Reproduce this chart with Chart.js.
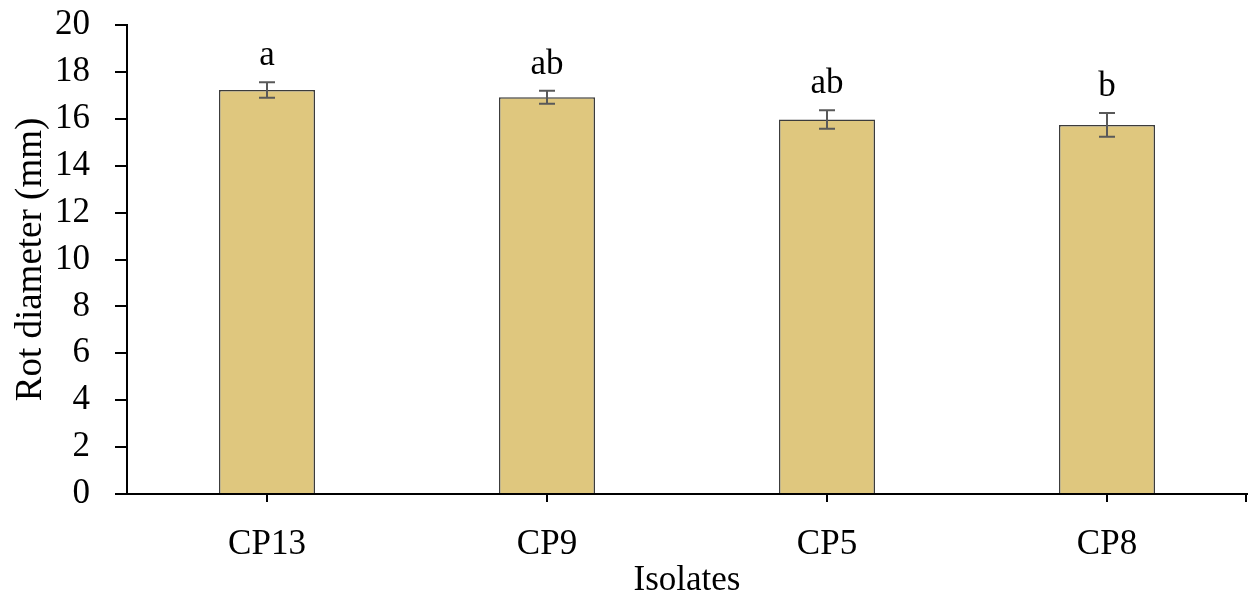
<!DOCTYPE html>
<html>
<head>
<meta charset="utf-8">
<script src="https://cdn.jsdelivr.net/npm/chart.js@4/dist/chart.umd.min.js"></script>
<style>
  html, body { margin: 0; padding: 0; background: #fff; }
  #wrap { width: 1249px; height: 598px; }
</style>
</head>
<body>
<div id="wrap"><canvas id="myChart" width="1249" height="598"></canvas></div>
<script>
// Values
const isolates = ['CP13', 'CP9', 'CP5', 'CP8'];
const rotDiameter = [17.23, 16.92, 15.97, 15.74];
const stdError = [0.33, 0.28, 0.39, 0.51];
const groupLetters = ['a', 'ab', 'ab', 'b'];
const yTicks = [0, 2, 4, 6, 8, 10, 12, 14, 16, 18, 20];

const serif = "'Liberation Serif', 'Times New Roman', serif";

// error bars + significance letters
const errorBarPlugin = {
    id: 'errorBars',
    afterDatasetsDraw(chart) {
        const ctx = chart.ctx;
        const y = chart.scales.y;
        const meta = chart.getDatasetMeta(0);
        ctx.save();
        ctx.strokeStyle = '#595959';
        ctx.lineWidth = 2;
        meta.data.forEach((bar, i) => {
            const top = y.getPixelForValue(rotDiameter[i] + stdError[i]);
            const bot = y.getPixelForValue(rotDiameter[i] - stdError[i]);
            ctx.beginPath();
            ctx.moveTo(bar.x, top); ctx.lineTo(bar.x, bot);
            ctx.moveTo(bar.x - 8, top); ctx.lineTo(bar.x + 8, top);
            ctx.moveTo(bar.x - 8, bot); ctx.lineTo(bar.x + 8, bot);
            ctx.stroke();
            ctx.fillStyle = '#000';
            ctx.font = '35px ' + serif;
            ctx.textAlign = 'center';
            ctx.textBaseline = 'alphabetic';
            ctx.fillText(groupLetters[i], bar.x, top - 17);
        });
        // closing tick at the right end of the x axis
        const area = chart.chartArea;
        ctx.strokeStyle = '#000';
        ctx.beginPath();
        ctx.moveTo(area.right - 1, area.bottom);
        ctx.lineTo(area.right - 1, area.bottom + 8);
        ctx.stroke();
        ctx.restore();
    }
};

const ctx = document.getElementById('myChart').getContext('2d');
new Chart(ctx, {
    type: 'bar',
    data: {
        labels: isolates,
        datasets: [{
            data: rotDiameter,
            backgroundColor: '#DFC77E',
            borderColor: '#3c3c3c',
            borderWidth: 1.5,
            categoryPercentage: 1,
            barPercentage: 0.343
        }]
    },
    options: {
        responsive: false,
        animation: false,
        layout: { padding: { top: 25, right: 2, left: 0, bottom: 0 } },
        plugins: {
            legend: { display: false },
            tooltip: { enabled: false }
        },
        scales: {
            x: {
                offset: true,
                afterFit(scale) {
                    scale.height = 104;
                    scale.paddingLeft = 0;
                    scale.paddingRight = 0;
                },
                grid: {
                    offset: false,
                    drawOnChartArea: false,
                    drawTicks: true,
                    tickLength: 8,
                    color: '#000',
                    lineWidth: 2
                },
                border: { display: true, color: '#000', width: 2 },
                ticks: {
                    color: '#000',
                    padding: 22,
                    font: { family: serif, size: 35 },
                    maxRotation: 0
                },
                title: {
                    display: true,
                    text: 'Isolates',
                    color: '#000',
                    padding: { top: 0, bottom: 0 },
                    font: { family: serif, size: 35, lineHeight: 1 }
                }
            },
            y: {
                min: 0,
                max: 20,
                afterFit(scale) {
                    scale.width = 127;
                    scale.paddingTop = 0;
                    scale.paddingBottom = 0;
                },
                afterBuildTicks(scale) { scale.ticks = yTicks.map(v => ({ value: v })); },
                grid: {
                    drawOnChartArea: false,
                    drawTicks: true,
                    tickLength: 12,
                    color: '#000',
                    lineWidth: 2
                },
                border: { display: true, color: '#000', width: 2 },
                ticks: {
                    color: '#000',
                    padding: 25,
                    autoSkip: false,
                    font: { family: serif, size: 35 }
                },
                title: {
                    display: true,
                    text: 'Rot diameter (mm)',
                    color: '#000',
                    padding: { top: 9, bottom: 0 },
                    font: { family: serif, size: 37 }
                }
            }
        }
    },
    plugins: [errorBarPlugin]
});
</script>
</body>
</html>
